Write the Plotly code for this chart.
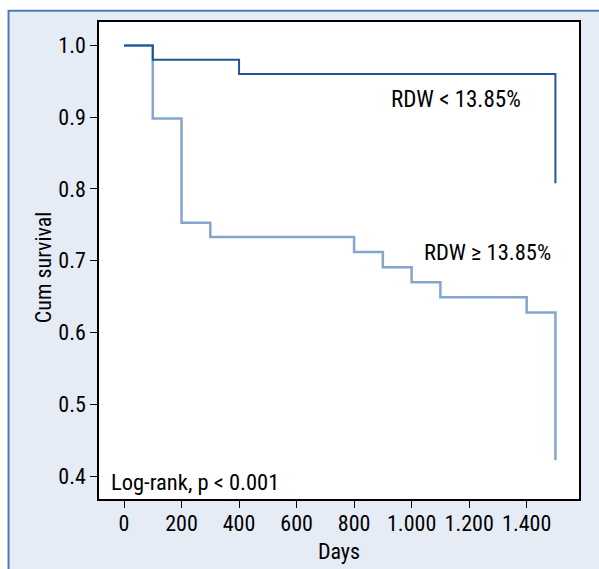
import plotly.graph_objects as go

# Kaplan-Meier data
low_days = [0, 100, 400, 1500]
low_surv = [1.0, 0.98, 0.96, 0.808]

high_days = [0, 100, 200, 300, 800, 900, 1000, 1100, 1400, 1500]
high_surv = [1.0, 0.898, 0.753, 0.733, 0.712, 0.691, 0.670, 0.649, 0.628, 0.422]

x_tick_vals = [0, 200, 400, 600, 800, 1000, 1200, 1400]
x_tick_text = ["0", "200", "400", "600", "800", "1.000", "1.200", "1.400"]
y_tick_vals = [0.4, 0.5, 0.6, 0.7, 0.8, 0.9, 1.0]
y_tick_text = ["0.4", "0.5", "0.6", "0.7", "0.8", "0.9", "1.0"]

FONT = "Roboto Condensed, Arial Narrow, sans-serif"
DARK = "#1d5799"
LIGHT = "#85a6cc"
PANEL = "#e6ecf5"
BORDER = "#4d7db8"

W, H = 599, 569
L, R, T, B = 98.5, 578.7, 22.3, 499.3
pw, ph = R - L, B - T

def px(xp):
    return (xp - L) / pw

def py(yp):
    return (B - yp) / ph

fig = go.Figure()
fig.add_trace(go.Scatter(x=high_days, y=high_surv, mode="lines", line_shape="hv",
                         line=dict(color=LIGHT, width=2.5), name="RDW ≥ 13.85%",
                         showlegend=False))
fig.add_trace(go.Scatter(x=low_days, y=low_surv, mode="lines", line_shape="hv",
                         line=dict(color=DARK, width=2), name="RDW < 13.85%",
                         showlegend=False))

fig.add_shape(type="rect", xref="paper", yref="paper",
              x0=px(8), x1=px(640), y0=py(620), y1=py(11),
              fillcolor=PANEL, line=dict(color=BORDER, width=2), layer="below")
fig.add_shape(type="rect", xref="paper", yref="paper",
              x0=0, x1=1, y0=0, y1=1, fillcolor="white",
              line=dict(width=0), layer="below")

fig.add_annotation(x=922, y=0.924, text="RDW < 13.85%", showarrow=False,
                   xanchor="left", yanchor="middle", font=dict(size=23, color="black", family=FONT))
fig.add_annotation(x=1036, y=0.7127, text="RDW ≥ 13.85%", showarrow=False,
                   xanchor="left", yanchor="middle", font=dict(size=22.5, color="black", family=FONT))
fig.add_annotation(x=-51, y=0.3923, text="Log-rank, p < 0.001", showarrow=False,
                   xanchor="left", yanchor="middle", font=dict(size=22.5, color="black", family=FONT))

# y-axis title placed as a rotated annotation (slightly below the axis centre, as in the reference)
fig.add_annotation(x=px(43), y=py(268), xref="paper", yref="paper", text="Cum survival",
                   textangle=-90, showarrow=False, xanchor="center", yanchor="middle",
                   font=dict(size=22, color="black", family=FONT))

fig.update_xaxes(range=[-87, 1582], tickvals=x_tick_vals, ticktext=x_tick_text,
                 showline=True, linecolor="black", linewidth=1.5, mirror=True,
                 ticks="outside", ticklen=7, tickcolor="black", showgrid=False, zeroline=False,
                 ticklabelstandoff=-3,
                 tickfont=dict(size=22, color="black", family=FONT),
                 title=dict(text="Days", font=dict(size=22, color="black", family=FONT), standoff=8))
fig.update_yaxes(range=[0.368, 1.0326], tickvals=y_tick_vals, ticktext=y_tick_text,
                 showline=True, linecolor="black", linewidth=1.5, mirror=True,
                 ticks="outside", ticklen=7, tickcolor="black", showgrid=False, zeroline=False,
                 tickfont=dict(size=22, color="black", family=FONT))

fig.update_layout(width=W, height=H, paper_bgcolor="white", plot_bgcolor="rgba(0,0,0,0)",
                  margin=dict(l=L, r=W - R, t=T, b=H - B, autoexpand=False),
                  showlegend=False)

fig.write_html("out.html", config={"displayModeBar": False},
               post_script="document.body.style.margin='0';")
